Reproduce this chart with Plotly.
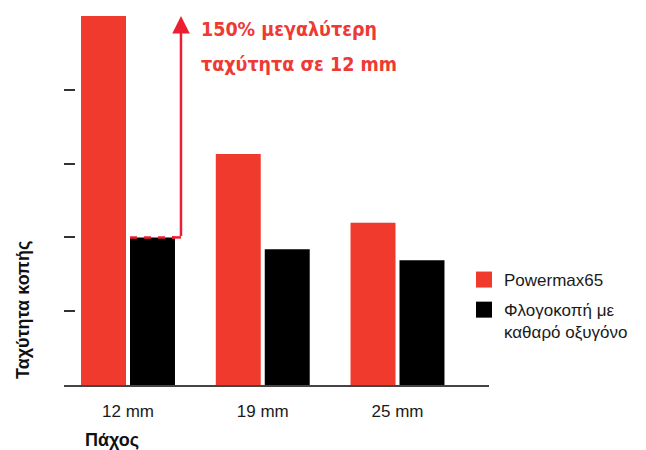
import plotly.graph_objects as go

# ---------------- data ----------------
categories = ["12 mm", "19 mm", "25 mm"]
powermax65 = [5.0, 3.13, 2.2]
oxyfuel = [2.0, 1.84, 1.69]
series_names = ["Powermax65", "Φλογοκοπή με<br>καθαρό οξυγόνο"]
y_ticks = [0, 1, 2, 3, 4, 5]
callout_lines = ["150% μεγαλύτερη", "ταχύτητα σε 12 mm"]
y_title = "Ταχύτητα κοπής"
x_title = "Πάχος"

# ---------------- style / layout ----------------
RED = "#EF3A2D"
BLACK = "#000000"
ARROW = "#EC1F32"
TEXT_RED = "#EE3A33"
OFF = 8                      # default page body margin of the html page
PAGE_W, PAGE_H = 646, 450
W, H = PAGE_W - OFF, PAGE_H - OFF
PL, PR, PT, PB = 64, 489, 16, 385   # plot area in page pixels
L, T = PL - OFF, PT - OFF
R, B = PAGE_W - PR, PAGE_H - PB
PW, PH = PR - PL, PB - PT
BARGAP, BARGROUPGAP = 0.273, 0.082
XRANGE = [-0.475, 2.679]
YRANGE = [0, 5]
ppu = PW / (XRANGE[1] - XRANGE[0])

def px_x(p):
    return (p - PL) / PW

def px_y(p):
    return (PB - p) / PH

fig = go.Figure()
fig.add_bar(x=categories, y=powermax65, name=series_names[0],
            marker=dict(color=RED, line=dict(width=0)), showlegend=False)
fig.add_bar(x=categories, y=oxyfuel, name=series_names[1],
            marker=dict(color=BLACK, line=dict(width=0)), showlegend=False)
# legend entries (larger square swatches)
for i, (name, col) in enumerate(zip(series_names, [RED, BLACK])):
    fig.add_scatter(x=[None], y=[None], mode="markers", name=name, legendgroup=f"g{i}",
                    marker=dict(symbol="square", size=18, color=col, line=dict(width=0)))

# geometry of the 12 mm black bar, derived from bar layout settings
slot = (1 - BARGAP) / 2
bar_w = slot * (1 - BARGROUPGAP)
black_c = 0 + slot / 2
black_l, black_r = black_c - bar_w / 2, black_c + bar_w / 2
arrow_x = black_r + 6 / ppu

shapes = [
    dict(type="line", xref="x", yref="y", x0=black_l, x1=black_r,
         y0=oxyfuel[0], y1=oxyfuel[0], line=dict(color=ARROW, width=2.5, dash="7px,7px")),
    dict(type="line", xref="x", yref="y", x0=black_r - 3 / ppu, x1=arrow_x,
         y0=oxyfuel[0], y1=oxyfuel[0], line=dict(color=ARROW, width=2.5)),
]

callout_font = dict(family="DejaVu Sans Condensed, Liberation Sans Narrow, Arial Narrow, sans-serif",
                    size=19.5, color=TEXT_RED, weight="bold")
annotations = [
    dict(x=arrow_x, y=powermax65[0], ax=arrow_x, ay=oxyfuel[0], xref="x", yref="y",
         axref="x", ayref="y", text="", showarrow=True, arrowhead=2, arrowsize=1.4,
         arrowwidth=2.5, arrowcolor=ARROW, standoff=0, startstandoff=0),
    dict(x=px_x(199), y=px_y(30), xref="paper", yref="paper", xanchor="left", yanchor="middle",
         text=callout_lines[0], showarrow=False, font=callout_font),
    dict(x=px_x(199), y=px_y(64), xref="paper", yref="paper", xanchor="left", yanchor="middle",
         text=callout_lines[1], showarrow=False, font=callout_font),
    dict(x=px_x(23), y=px_y(381), xref="paper", yref="paper", xanchor="center", yanchor="bottom",
         text=y_title, textangle=-90, showarrow=False,
         font=dict(family="Liberation Sans, Arial, sans-serif", size=18, color="#111111", weight="bold")),
    dict(x=px_x(83), y=px_y(440), xref="paper", yref="paper", xanchor="left", yanchor="middle",
         text=x_title, showarrow=False,
         font=dict(family="Liberation Sans, Arial, sans-serif", size=18, color="#111111", weight="bold")),
]

fig.update_layout(
    width=W, height=H,
    margin=dict(l=L, r=R, t=T, b=B, pad=0),
    paper_bgcolor="white", plot_bgcolor="white",
    barmode="group", bargap=BARGAP, bargroupgap=BARGROUPGAP,
    font=dict(family="Liberation Sans, Arial, sans-serif", size=17, color="#1a1a1a"),
    showlegend=True,
    legend=dict(x=px_x(464), y=px_y(262), xanchor="left", yanchor="top",
                font=dict(size=17, color="#1a1a1a"), valign="top",
                bgcolor="rgba(0,0,0,0)", tracegroupgap=5),
    shapes=shapes, annotations=annotations,
    xaxis=dict(type="category", range=XRANGE, showline=True, linecolor="#444444", linewidth=1.5,
               ticks="", showgrid=False, zeroline=False, fixedrange=True, ticklabelstandoff=10,
               tickfont=dict(size=17, color="#1a1a1a")),
    yaxis=dict(range=YRANGE, tickvals=y_ticks, showticklabels=False, ticks="inside",
               ticklen=11, tickwidth=1.5, tickcolor="#333333", showline=False,
               showgrid=False, zeroline=False, fixedrange=True),
)

fig.write_html("out.html")
